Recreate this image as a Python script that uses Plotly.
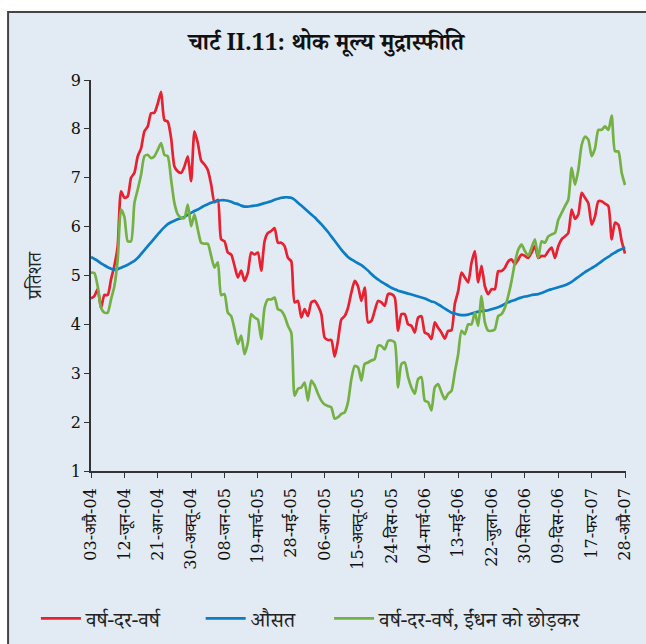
import pandas as pd
import plotly.graph_objects as go

start_date = "2004-04-03"
n_weeks = 161

yoy = [4.53, 4.58, 4.72, 4.34, 4.6, 4.6, 4.92, 5.2, 5.6, 6.72,
       6.59, 6.62, 7.0, 7.1, 7.44, 7.6, 7.95, 8.05, 8.32, 8.33,
       8.52, 8.76, 8.18, 8.15, 7.81, 7.23, 7.13, 7.1, 7.23, 7.44,
       6.93, 7.95, 7.71, 7.35, 7.27, 7.16, 6.86, 6.5, 6.55, 5.74,
       5.7, 5.47, 5.43, 5.2, 4.96, 5.1, 4.89, 5.06, 5.47, 5.43,
       5.47, 5.1, 5.7, 5.87, 5.91, 5.97, 5.67, 5.67, 5.6, 5.36,
       5.29, 4.45, 4.48, 4.14, 4.31, 4.17, 4.45, 4.48, 4.38, 4.21,
       3.73, 3.68, 3.68, 3.34, 3.67, 4.1, 4.17, 4.34, 4.65, 4.89,
       4.78, 4.48, 4.75, 4.04, 4.07, 4.28, 4.48, 4.45, 4.38, 4.62,
       4.62, 4.55, 3.87, 4.21, 4.21, 4.0, 3.97, 3.83, 4.14, 4.17,
       3.83, 3.8, 3.7, 4.04, 3.93, 3.83, 3.71, 3.87, 3.88, 4.42,
       4.68, 5.06, 4.96, 4.86, 5.26, 5.5, 4.86, 5.2, 4.78, 4.62,
       4.72, 4.72, 5.09, 5.09, 5.16, 5.29, 5.33, 5.23, 5.33, 5.43,
       5.4, 5.36, 5.47, 5.6, 5.36, 5.4, 5.4, 5.5, 5.57, 5.36,
       5.6, 5.74, 5.8, 5.87, 6.35, 6.16, 6.25, 6.69, 6.59, 6.48,
       6.04, 6.21, 6.52, 6.52, 6.47, 6.42, 5.74, 6.08, 6.04, 5.7,
       5.45]

avg = [5.38, 5.34, 5.3, 5.25, 5.21, 5.17, 5.14, 5.12, 5.13, 5.16,
       5.19, 5.22, 5.26, 5.3, 5.36, 5.44, 5.52, 5.6, 5.68, 5.76,
       5.84, 5.92, 5.99, 6.05, 6.09, 6.12, 6.15, 6.17, 6.2, 6.24,
       6.28, 6.32, 6.35, 6.39, 6.43, 6.46, 6.49, 6.51, 6.53, 6.54,
       6.54, 6.53, 6.51, 6.48, 6.46, 6.43, 6.41, 6.41, 6.42, 6.43,
       6.44, 6.46, 6.48, 6.5, 6.52, 6.55, 6.57, 6.59, 6.6, 6.6,
       6.59, 6.55, 6.49, 6.43, 6.37, 6.31, 6.25, 6.19, 6.12, 6.05,
       5.97, 5.89, 5.8, 5.71, 5.62, 5.53, 5.45, 5.38, 5.33, 5.29,
       5.25, 5.21, 5.16, 5.1, 5.03, 4.97, 4.92, 4.87, 4.83, 4.79,
       4.75, 4.72, 4.69, 4.67, 4.65, 4.63, 4.61, 4.59, 4.57, 4.55,
       4.53, 4.5, 4.47, 4.45, 4.41, 4.37, 4.32, 4.28, 4.24, 4.22,
       4.2, 4.19, 4.19, 4.2, 4.22, 4.24, 4.26, 4.27, 4.28, 4.29,
       4.31, 4.33, 4.35, 4.38, 4.42, 4.45, 4.48, 4.5, 4.53, 4.55,
       4.57, 4.58, 4.6, 4.61, 4.62, 4.64, 4.67, 4.7, 4.72, 4.74,
       4.76, 4.78, 4.8, 4.83, 4.87, 4.92, 4.97, 5.02, 5.07, 5.11,
       5.15, 5.19, 5.24, 5.29, 5.34, 5.38, 5.43, 5.47, 5.51, 5.54,
       5.58]

yoy_ex_fuel = [5.06, 5.05, 4.78, 4.34, 4.24, 4.24, 4.51, 4.78, 5.33, 6.35,
               6.2, 5.7, 5.7, 6.48, 6.76, 7.06, 7.44, 7.47, 7.4, 7.44,
               7.57, 7.71, 7.47, 7.44, 6.96, 6.48, 6.25, 6.18, 6.18, 6.45,
               6.01, 6.25, 5.94, 5.67, 5.65, 5.65, 5.4, 5.16, 5.27, 4.6,
               4.62, 4.24, 4.17, 3.9, 3.6, 3.77, 3.39, 3.63, 4.21, 4.14,
               4.1, 3.7, 4.34, 4.51, 4.51, 4.55, 4.31, 4.28, 4.17, 3.97,
               3.83, 2.54, 2.68, 2.71, 2.81, 2.44, 2.85, 2.75, 2.58, 2.44,
               2.36, 2.33, 2.3, 2.07, 2.1, 2.17, 2.2, 2.41, 2.88, 3.15,
               3.12, 2.85, 3.19, 3.22, 3.26, 3.29, 3.56, 3.56, 3.49, 3.66,
               3.67, 3.63, 2.71, 3.19, 3.22, 2.92, 2.71, 2.58, 2.88, 2.92,
               2.44, 2.41, 2.24, 2.71, 2.78, 2.61, 2.47, 2.58, 2.64, 3.02,
               3.39, 3.87, 3.8, 4.0, 4.0, 4.24, 3.97, 4.58, 4.04, 3.87,
               3.87, 3.9, 4.17, 4.21, 4.34, 4.58, 4.89, 5.26, 5.53, 5.63,
               5.5, 5.4, 5.57, 5.74, 5.36, 5.7, 5.67, 5.8, 5.84, 5.87,
               6.14, 6.28, 6.42, 6.55, 7.2, 6.86, 7.16, 7.67, 7.84, 7.78,
               7.44, 7.6, 7.98, 7.98, 8.05, 7.98, 8.27, 7.54, 7.54, 7.1,
               6.85]

tick_labels = ["03-अप्रै-04", "12-जून-04", "21-अग-04", "30-अक्तू-04", "08-जन-05",
               "19-मार्च-05", "28-मई-05", "06-अग-05", "15-अक्तू-05", "24-दिस-05",
               "04-मार्च-06", "13-मई-06", "22-जुला-06", "30-सित-06", "09-दिस-06",
               "17-फर-07", "28-अप्रै-07"]

series_names = ["वर्ष-दर-वर्ष", "औसत", "वर्ष-दर-वर्ष, ईंधन को छोड़कर"]
series_colors = ["#e8202f", "#0b7dc6", "#74b043"]

dates = pd.date_range(start_date, periods=n_weeks, freq="7D")
tick_vals = list(dates[::10])

BG = "#e2ebf3"
DEV = "Noto Serif Devanagari, Noto Sans Devanagari, Lohit Devanagari, serif"
SERIF = "DejaVu Serif, Liberation Serif, serif"

legend_ids = ["legend", "legend2", "legend3"]
legend_x = [-0.103, 0.205, 0.445]

fig = go.Figure()
for name, vals, col, lg in zip(series_names, [yoy, avg, yoy_ex_fuel], series_colors, legend_ids):
    fig.add_trace(go.Scatter(x=dates, y=vals, mode="lines", name=name, legend=lg,
                             line=dict(color=col, width=2.7, shape="spline", smoothing=0.6)))

legend_common = dict(orientation="h", xanchor="left", y=-0.378, yanchor="middle",
                     font=dict(family=DEV, size=21, color="#222"),
                     bgcolor="rgba(0,0,0,0)", itemwidth=40)

fig.update_layout(
    width=646, height=644,
    margin=dict(l=91, r=20, t=80, b=173, autoexpand=False),
    paper_bgcolor="white",
    plot_bgcolor=BG,
    showlegend=True,
    legend=dict(x=legend_x[0], **legend_common),
    legend2=dict(x=legend_x[1], **legend_common),
    legend3=dict(x=legend_x[2], **legend_common),
    title=dict(text="<b>चार्ट II.11: थोक मूल्य मुद्रास्फीति</b>", x=0.505, xref="container",
               xanchor="center", y=0.935, yanchor="middle",
               font=dict(family=DEV, size=23, color="#111")),
    shapes=[dict(type="rect", xref="paper", yref="paper",
                 x0=-0.155, x1=1.3, y0=-0.6, y1=1.174,
                 fillcolor=BG, line=dict(color="#444", width=2), layer="below")],
)

fig.update_xaxes(
    range=[dates[0], dates[-1] + pd.Timedelta(days=2)],
    tickvals=tick_vals, ticktext=tick_labels, tickangle=-90,
    tickfont=dict(family=SERIF, size=16, color="#111"),
    showgrid=False, zeroline=False, automargin=False,
    showline=True, linecolor="#333", linewidth=1.5,
    ticks="outside", ticklen=5, tickcolor="#333", ticklabelstandoff=4,
)
fig.update_yaxes(
    range=[1, 9], dtick=1,
    tickfont=dict(family=SERIF, size=16, color="#111"),
    showgrid=False, zeroline=False, automargin=False,
    showline=True, linecolor="#333", linewidth=1.5,
    ticks="outside", ticklen=5, tickcolor="#333",
    title=dict(text="प्रतिशत", font=dict(family=DEV, size=19, color="#222"), standoff=24),
)

fig.write_html("out.html", config={"displayModeBar": False},
               post_script="document.body.style.margin='0';document.body.style.overflow='hidden';")
